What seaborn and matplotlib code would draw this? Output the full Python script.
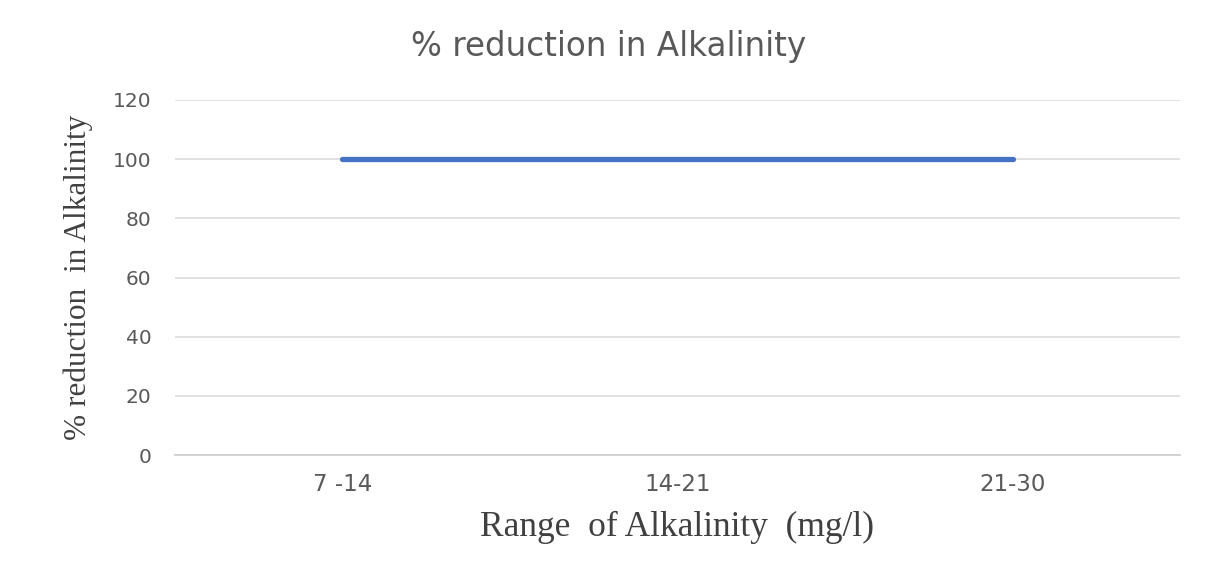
import matplotlib
matplotlib.use("Agg")
import matplotlib.pyplot as plt
import seaborn as sns
import pandas as pd

categories = ["7 -14", "14-21", "21-30"]
reduction = [100, 100, 100]
yticks = [0, 20, 40, 60, 80, 100, 120]

df = pd.DataFrame({"range": categories, "reduction": reduction})

sns.set_theme(style="white")
plt.rcParams['font.family'] = ['DejaVu Sans']

fig = plt.figure(figsize=(12.16, 5.73), dpi=100)
ax = fig.add_axes([0.1439, 0.2059, 0.8265, 0.6196])

sns.lineplot(data=df, x="range", y="reduction", ax=ax, color="#4472C4",
             linewidth=3.8, sort=False)

ax.set_xlim(-0.5, len(categories) - 0.5)
ax.set_ylim(0, 120)
ax.set_yticks(yticks)
ax.set_yticklabels([str(t) for t in yticks], fontsize=14.5, color="#595959")
ax.set_xticks(range(len(categories)))
ax.set_xticklabels(categories, fontsize=16.5, color="#595959")
ax.tick_params(axis="x", length=0, pad=13)
ax.tick_params(axis="y", length=0, pad=17)
ax.grid(axis="y", color="#d9d9d9", linewidth=1.1)
ax.set_axisbelow(True)
for s in ["top", "right", "left"]:
    ax.spines[s].set_visible(False)
ax.spines["bottom"].set_color("#d0d0d0")
ax.spines["bottom"].set_linewidth(1.3)

ax.set_xlabel("Range  of Alkalinity  (mg/l)", fontsize=25.5, color="#404040",
              family=["Liberation Serif"], labelpad=11)
ax.set_ylabel("% reduction  in Alkalinity", fontsize=22.5, color="#404040",
              family=["Liberation Serif"], labelpad=14)
fig.text(0.5008, 0.918, "% reduction in Alkalinity", ha="center", va="center",
         fontsize=23.5, color="#595959")

fig.savefig("out.png", dpi=100, facecolor="white")
